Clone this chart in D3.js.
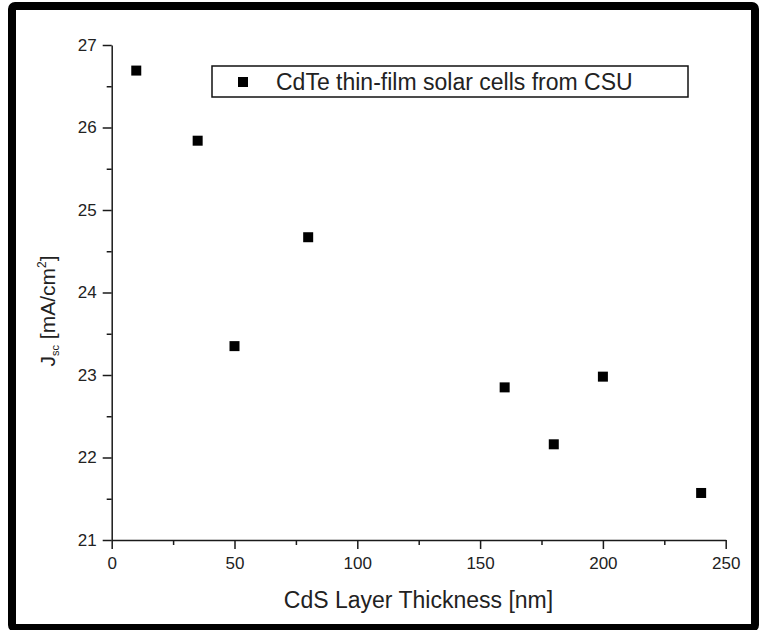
<!DOCTYPE html>
<html>
<head>
<meta charset="utf-8">
<script src="https://cdn.jsdelivr.net/npm/d3@7"></script>
<style>
  html, body { margin: 0; padding: 0; background: #fff; }
  svg { display: block; font-family: "Liberation Sans", Arial, sans-serif; }
</style>
</head>
<body>
<svg id="chart" width="759" height="630"></svg>
<script>
// ---- data ----
const thickness = [10, 35, 50, 80, 160, 180, 200, 240];          // CdS layer thickness [nm]
const jsc = [26.69, 25.84, 23.35, 24.67, 22.85, 22.16, 22.98, 21.57]; // Jsc [mA/cm2]
const xTicks = [0, 50, 100, 150, 200, 250];
const xMinor = [25, 75, 125, 175, 225];
const yTicks = [21, 22, 23, 24, 25, 26, 27];
const yMinor = [21.5, 22.5, 23.5, 24.5, 25.5, 26.5];
const seriesName = "CdTe thin-film solar cells from CSU";

const svg = d3.select("#chart");

// outer frame
svg.append("rect")
  .attr("x", 12).attr("y", 6).attr("width", 743).attr("height", 622)
  .attr("rx", 3)
  .attr("fill", "none").attr("stroke", "#000").attr("stroke-width", 8);

const x = d3.scaleLinear().domain([0, 250]).range([111.7, 725.7]);
const y = d3.scaleLinear().domain([21, 27]).range([540, 45]);

const axisColor = "#1a1a1a";
const fmt = d3.format("d");

// minor ticks
svg.append("g").attr("transform", "translate(0,540)")
  .call(d3.axisBottom(x).tickValues(xMinor).tickSize(5).tickSizeOuter(0).tickFormat(""))
  .call(g => g.select(".domain").remove())
  .call(g => g.selectAll("line").attr("stroke", axisColor).attr("stroke-width", 1.5));
svg.append("g").attr("transform", "translate(111.7,0)")
  .call(d3.axisLeft(y).tickValues(yMinor).tickSize(5).tickSizeOuter(0).tickFormat(""))
  .call(g => g.select(".domain").remove())
  .call(g => g.selectAll("line").attr("stroke", axisColor).attr("stroke-width", 1.5));

// major axes
const gx = svg.append("g").attr("transform", "translate(0,540)")
  .call(d3.axisBottom(x).tickValues(xTicks).tickFormat(fmt).tickSize(9).tickSizeOuter(0).tickPadding(8));
gx.select(".domain").attr("stroke", axisColor).attr("stroke-width", 1.5);
gx.selectAll("line").attr("stroke", axisColor).attr("stroke-width", 1.5);
gx.selectAll("text").attr("font-size", 17).attr("fill", "#222")
  .attr("font-family", "Liberation Sans, Arial, sans-serif");

const gy = svg.append("g").attr("transform", "translate(111.7,0)")
  .call(d3.axisLeft(y).tickValues(yTicks).tickFormat(fmt).tickSize(9).tickSizeOuter(0).tickPadding(6));
gy.select(".domain").attr("stroke", axisColor).attr("stroke-width", 1.5);
gy.selectAll("line").attr("stroke", axisColor).attr("stroke-width", 1.5);
gy.selectAll("text").attr("font-size", 17).attr("fill", "#222")
  .attr("font-family", "Liberation Sans, Arial, sans-serif");

// axis titles
svg.append("text")
  .attr("x", 418.5).attr("y", 608)
  .attr("text-anchor", "middle").attr("font-size", 23).attr("fill", "#222")
  .text("CdS Layer Thickness [nm]");

const yt = svg.append("text")
  .attr("transform", "translate(55,311) rotate(-90)")
  .attr("text-anchor", "middle").attr("font-size", 21).attr("fill", "#222");
yt.append("tspan").text("J");
yt.append("tspan").attr("font-size", 11).attr("dy", 4).text("sc");
yt.append("tspan").attr("dy", -4).text(" [mA/cm");
yt.append("tspan").attr("font-size", 12).attr("dy", -9).text("2");
yt.append("tspan").attr("dy", 9).text("]");

// points
const ms = 10;
svg.append("g").selectAll("rect")
  .data(thickness.map((t, i) => ({ t, j: jsc[i] })))
  .join("rect")
  .attr("x", d => x(d.t) - ms / 2)
  .attr("y", d => y(d.j) - ms / 2)
  .attr("width", ms).attr("height", ms)
  .attr("fill", "#000");

// legend
const lg = svg.append("g");
lg.append("rect")
  .attr("x", 212).attr("y", 66).attr("width", 476).attr("height", 31)
  .attr("fill", "#fff").attr("stroke", "#111").attr("stroke-width", 1.5);
lg.append("rect")
  .attr("x", 243 - ms / 2).attr("y", 82 - ms / 2).attr("width", ms).attr("height", ms)
  .attr("fill", "#000");
lg.append("text")
  .attr("x", 276).attr("y", 90)
  .attr("font-size", 23).attr("fill", "#222")
  .text(seriesName);
</script>
</body>
</html>
